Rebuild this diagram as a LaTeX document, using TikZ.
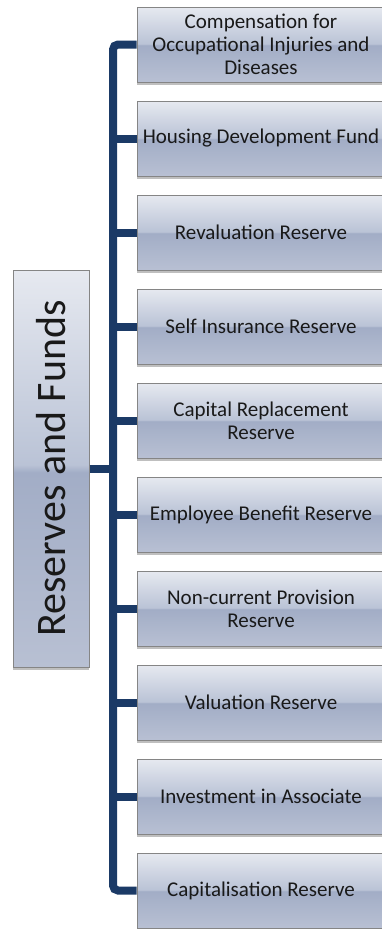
\documentclass[tikz,border=0pt]{standalone}
\usepackage{fontspec}
\setmainfont{Carlito}
\usetikzlibrary{shadows}
\definecolor{navy}{HTML}{1B3A66}
\definecolor{boxedge}{HTML}{858585}
\definecolor{boxtop}{HTML}{E6E9F0}
\definecolor{boxhigh}{HTML}{BAC3D6}
\definecolor{boxlow}{HTML}{A2ADC6}
\definecolor{boxbot}{HTML}{B8C0D3}
\pgfdeclareverticalshading{boxshade}{100bp}{color(0bp)=(boxbot); color(25bp)=(boxbot); color(49.5bp)=(boxlow); color(50.5bp)=(boxhigh); color(75bp)=(boxtop); color(100bp)=(boxtop)}
\tikzset{
  itembox/.style={draw=boxedge, line width=1pt, shading=boxshade,
    drop shadow={shadow xshift=0pt, shadow yshift=-3pt, opacity=0.25, fill=black},
    minimum width=248pt, minimum height=75pt, inner sep=0pt, align=center,
    text=black!90, font=\fontsize{21}{23}\selectfont},
  rootbox/.style={itembox, minimum width=76pt, minimum height=397pt,
    font=\fontsize{42}{46}\selectfont},
  branch/.style={draw=navy, line width=8pt}
}
\begin{document}
\begin{tikzpicture}[x=1pt, y=-1pt]
\useasboundingbox (0,0) rectangle (381,929);
% Root box
\node[rootbox] (root) at (51,468.5) {\rotatebox{90}{Reserves and Funds}};
% Items
\node[itembox] (c1) at (261,44.5) {Compensation for\\Occupational Injuries and\\Diseases};
\node[itembox] (c2) at (261,138.5) {Housing Development Fund};
\node[itembox] (c3) at (261,232.5) {Revaluation Reserve};
\node[itembox] (c4) at (261,326.5) {Self Insurance Reserve};
\node[itembox] (c5) at (261,420.5) {Capital Replacement\\Reserve};
\node[itembox] (c6) at (261,514.5) {Employee Benefit Reserve};
\node[itembox] (c7) at (261,608.5) {Non-current Provision\\Reserve};
\node[itembox] (c8) at (261,702.5) {Valuation Reserve};
\node[itembox] (c9) at (261,796.5) {Investment in Associate};
\node[itembox] (c10) at (261,890.5) {Capitalisation Reserve};
% Trunk
\coordinate (trunk) at (113,0);
\draw[branch, rounded corners=5pt] (c1.west) -| (trunk |- c10.west) -- (c10.west);
\foreach \i in {2,...,9}
  \draw[branch] (trunk |- c\i.west) -- (c\i.west);
\draw[branch] (root.east) -- (trunk |- root.east);
\end{tikzpicture}
\end{document}
